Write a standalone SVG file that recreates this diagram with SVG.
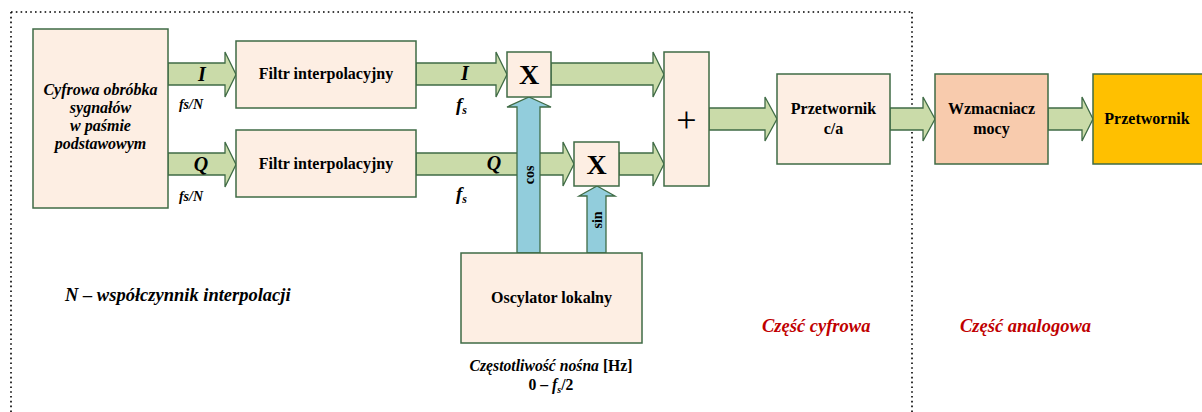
<svg xmlns="http://www.w3.org/2000/svg" width="1202" height="412" viewBox="0 0 1202 412" font-family="'Liberation Serif', 'DejaVu Serif', serif">
<style>
.box{fill:#FDEEE3;stroke:#3F6B45;stroke-width:1.5}
.ga{fill:#CADBA9;stroke:#3F6B45;stroke-width:1.3}
.ba{fill:#92CDDC;stroke:#3F6B45;stroke-width:1.3}
.dot{fill:none;stroke:#000;stroke-width:1.6;stroke-dasharray:1.6 3.2}
text{font-family:'Liberation Serif', serif;font-weight:bold;fill:#000}
.c{text-anchor:middle}
.bi{font-style:italic}
.red{fill:#C00000}
</style>
<rect width="1202" height="412" fill="#fff"/>
<g id="frame">
<path class="dot" d="M11,12 H912 M11,12 V412 M912,12 V412"/>
</g>
<g id="connectors">
<polygon class="ga" points="168,63 225,63 225,52 236,74.5 225,97 225,85 168,85"/>
<polygon class="ga" points="168,153 225,153 225,142 236,164.5 225,187 225,175 168,175"/>
<polygon class="ga" points="416,63 496,63 496,52 507,74.5 496,97 496,85 416,85"/>
<polygon class="ga" points="416,153 563,153 563,142 574,164 563,186 563,175 416,175"/>
<polygon class="ga" points="551,63 653,63 653,52 664,74.5 653,97 653,85 551,85"/>
<polygon class="ga" points="619,153 653,153 653,142 664,164 653,186 653,175 619,175"/>
<polygon class="ga" points="709,108 765,108 765,97 777,119 765,141 765,130 709,130"/>
<polygon class="ga" points="890,108 923,108 923,97 935,119 923,141 923,130 890,130"/>
<polygon class="ga" points="1048,108 1082,108 1082,97 1093,119 1082,141 1082,130 1048,130"/>
<polygon class="ba" points="517,253 517,107 507,107 529,97 551,107 540,107 540,253"/>
<polygon class="ba" points="587,253 587,196 579,196 597,186 615,196 606,196 606,253"/>
<text class="c bi" x="202" y="81" font-size="20">I</text>
<text class="c bi" x="191" y="109" font-size="14">fs/N</text>
<text class="c bi" x="201" y="171" font-size="20">Q</text>
<text class="c bi" x="191" y="201" font-size="14">fs/N</text>
<text class="c bi" x="465" y="80" font-size="20">I</text>
<text class="bi" x="456" y="111" font-size="19">f<tspan font-size="12" dy="3">s</tspan></text>
<text class="c bi" x="494" y="170" font-size="20">Q</text>
<text class="bi" x="456" y="200" font-size="19">f<tspan font-size="12" dy="3">s</tspan></text>
<text class="c" font-size="14" transform="translate(534,175) rotate(-90)">cos</text>
<text class="c" font-size="14" transform="translate(602,220) rotate(-90)">sin</text>
</g>
<g id="dsp">
<rect class="box" x="33" y="29" width="135" height="179"/>
<text class="c bi" font-size="16" x="100.5"><tspan x="100.5" y="95">Cyfrowa obróbka</tspan><tspan x="100.5" y="113">sygnałów</tspan><tspan x="100.5" y="131">w paśmie</tspan><tspan x="100.5" y="149">podstawowym</tspan></text>
</g>
<g id="filter-i">
<rect class="box" x="236" y="41" width="180" height="67"/>
<text class="c" font-size="16" x="326" y="79">Filtr interpolacyjny</text>
</g>
<g id="filter-q">
<rect class="box" x="236" y="130" width="180" height="67"/>
<text class="c" font-size="16" x="326" y="169">Filtr interpolacyjny</text>
</g>
<g id="mult-i">
<rect class="box" x="507" y="52" width="44" height="45"/>
<text class="c" font-size="28" x="529" y="84">X</text>
</g>
<g id="mult-q">
<rect class="box" x="574" y="142" width="45" height="44"/>
<text class="c" font-size="28" x="596.5" y="174">X</text>
</g>
<g id="sum">
<rect class="box" x="664" y="52" width="45" height="134"/>
<text class="c" font-size="36" style="font-weight:normal" x="686.5" y="132">+</text>
</g>
<g id="dac">
<rect class="box" x="777" y="74" width="113" height="90"/>
<text class="c" font-size="16" x="833.5"><tspan x="833.5" y="114">Przetwornik</tspan><tspan x="833.5" y="134">c/a</tspan></text>
</g>
<g id="amp">
<rect class="box" x="935" y="74" width="113" height="90" style="fill:#F8CBAD"/>
<text class="c" font-size="16" x="991.5"><tspan x="991.5" y="114">Wzmacniacz</tspan><tspan x="991.5" y="134">mocy</tspan></text>
</g>
<g id="transducer">
<rect class="box" x="1093" y="74" width="112" height="90" style="fill:#FFC000"/>
<text class="c" font-size="16" x="1147" y="124">Przetwornik</text>
</g>
<g id="oscillator">
<rect class="box" x="461" y="253" width="181" height="90"/>
<text class="c" font-size="16" x="551.5" y="303">Oscylator lokalny</text>
</g>
<g id="labels">
<text class="c" font-size="15.7" x="551" y="371"><tspan class="bi">Częstotliwość nośna</tspan> [Hz]</text>
<text class="c" font-size="15.7" x="551" y="390">0 – <tspan class="bi">f<tspan font-size="10" dy="3">s</tspan></tspan><tspan dy="-3">/2</tspan></text>
<text class="bi" font-size="18.5" x="65" y="301">N – współczynnik interpolacji</text>
<text class="bi red" font-size="18.5" x="762" y="332">Część cyfrowa</text>
<text class="bi red" font-size="18.5" x="960" y="332">Część analogowa</text>
</g>
</svg>
